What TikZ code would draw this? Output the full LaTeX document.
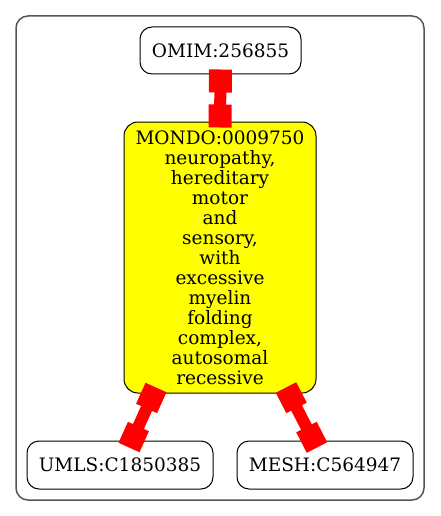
\documentclass[tikz,border=0pt]{standalone}
\usepackage{fontspec}
\setmainfont{DejaVu Serif}
\usepackage{tikz}
\usetikzlibrary{arrows.meta,positioning}
\definecolor{hot}{HTML}{FF0000}
\definecolor{lemon}{HTML}{FFFF00}
\definecolor{frame}{HTML}{555555}
\tikzset{
  every node/.style={font=\fontsize{18.5}{20}\selectfont},
  term/.style={rounded corners=12pt,draw=black,line width=1pt,fill=white,minimum height=47pt,inner sep=0pt,align=center},
  hub/.style={rounded corners=14pt,draw=black,line width=1pt,fill=lemon,minimum width=192pt,minimum height=271pt,inner sep=0pt,align=center},
  link/.style={draw=hot,line width=12pt,{Square[length=23pt,width=23pt]}-{Square[length=23pt,width=23pt]}},
}
\begin{document}
\begin{tikzpicture}[x=1pt,y=-1pt]
  \useasboundingbox (0,0) rectangle (440,516);
  \draw[frame,line width=1.5pt,rounded corners=12pt] (16,16) rectangle (424,500);
  \node[term,minimum width=161pt] (omim) at (220.5,50.5) {OMIM:256855};
  \node[hub] (mondo) at (220,257.5) {MONDO:0009750\\neuropathy,\\hereditary\\motor\\and\\sensory,\\with\\excessive\\myelin\\folding\\complex,\\autosomal\\recessive};
  \node[term,minimum width=186pt,minimum height=48pt] (umls) at (120,465) {UMLS:C1850385};
  \node[term,minimum width=176pt,minimum height=48pt] (mesh) at (325,465) {MESH:C564947};
  \draw[link] ([yshift=5pt]omim.south) -- ([yshift=-6pt]mondo.north);
  \draw[link] ([xshift=-64pt,yshift=6pt]mondo.south) -- ([xshift=9pt,yshift=-7pt]umls.north);
  \draw[link] ([xshift=66pt,yshift=6pt]mondo.south) -- ([xshift=-8pt,yshift=-7pt]mesh.north);
\end{tikzpicture}
\end{document}
